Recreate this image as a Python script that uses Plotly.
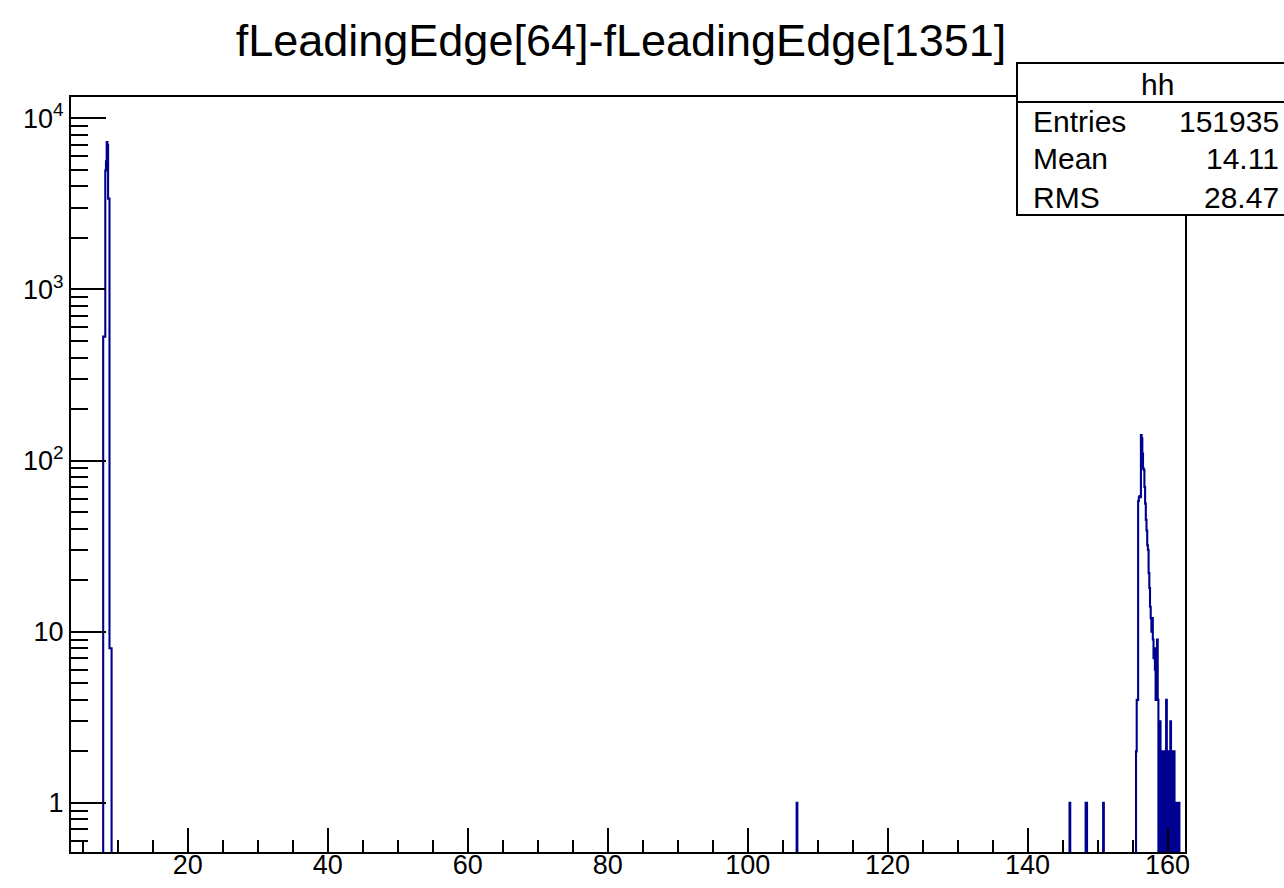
import numpy as np
import plotly.graph_objects as go

# ---- histogram "hh": fLeadingEdge[64]-fLeadingEdge[1351] ----
BIN_W = 0.1
X_LO, X_HI = 3.3, 162.5

# main peak (bin low edges and contents)
peak_lo = [7.9, 8.0, 8.1, 8.2, 8.3, 8.4, 8.5, 8.6, 8.7, 8.8, 8.9, 9.0]
peak_n = [530, 530, 530, 4960, 5600, 7250, 7000, 3390, 3390, 8, 8, 8]

# isolated single entries
lone_lo = [107.0, 146.0, 148.3, 148.4, 150.8]
lone_n = [1, 1, 1, 1, 1]

# late cluster
late_lo = [155.5, 155.6, 155.7, 155.8, 155.9, 156.0, 156.1, 156.2, 156.3, 156.4,
           156.5, 156.6, 156.7, 156.8, 156.9, 157.0, 157.1, 157.2, 157.3, 157.4,
           157.5, 157.6, 157.7, 157.8, 157.9, 158.0, 158.1, 158.2, 158.3, 158.4,
           158.5, 158.6, 158.7, 158.8, 158.9, 159.0, 159.1, 159.2, 159.3, 159.4,
           159.5, 159.6, 159.7, 159.8, 159.9, 160.0, 160.1, 160.2, 160.3, 160.4,
           160.5, 160.6, 160.7, 160.8, 160.9, 161.0, 161.1, 161.2, 161.3, 161.4,
           161.5, 161.6]
late_n = [2, 4, 4, 58, 61, 62, 61, 141, 135, 110,
          90, 88, 70, 56, 45, 39, 32, 30, 22, 18,
          14, 12, 10, 12, 9, 7, 8, 6, 4, 5,
          9, 4, 0, 2, 3, 0, 2, 1, 0, 2,
          1, 0, 2, 4, 0, 2, 1, 0, 2, 3,
          0, 2, 1, 0, 2, 1, 0, 1, 0, 1,
          0, 1]

stats_labels = ["Entries", "Mean", "RMS"]
stats_values = ["151935", "14.11", "28.47"]

y_tickvals = [1, 10, 100, 1000, 10000]
y_ticktext = ["1", "10", "10<sup>2</sup>", "10<sup>3</sup>", "10<sup>4</sup>"]

# ---- fill the binned contents ----
n_bins = int(round((X_HI - X_LO) / BIN_W)) + 1
edges = X_LO + BIN_W * np.arange(n_bins + 1)
counts = np.zeros(n_bins)
for lo_list, n_list in ((peak_lo, peak_n), (lone_lo, lone_n), (late_lo, late_n)):
    for lo, n in zip(lo_list, n_list):
        i = int(round((lo - X_LO) / BIN_W))
        if 0 <= i < n_bins:
            counts[i] = n

# empty bins drop below the visible log range
FLOOR = 1e-3
step_y = np.where(counts > 0, counts, FLOOR)
step_y = np.append(step_y, step_y[-1])

HIST_COLOR = "#000090"
FONT = "Liberation Sans, Arial, Helvetica, sans-serif"

fig = go.Figure()
fig.add_trace(go.Scatter(
    x=edges, y=step_y, mode="lines",
    line=dict(shape="hv", color=HIST_COLOR, width=2.1),
    hoverinfo="skip", showlegend=False,
))

# ---- geometry (pixels) ----
W, H = 1284, 888
L, R, T, B = 71, 1185, 97, 852


def px(xp):
    return (xp - L) / (R - L)


def py(yp):
    return (B - yp) / (B - T)


fig.update_layout(
    width=W, height=H,
    margin=dict(l=L, r=W - R, t=T, b=H - B, autoexpand=False),
    paper_bgcolor="white", plot_bgcolor="white",
    font=dict(family=FONT, color="black"),
    title=dict(text="fLeadingEdge[64]-fLeadingEdge[1351]",
               x=621 / W, xanchor="center", y=1 - 40 / H, yanchor="middle",
               font=dict(size=45, family=FONT, color="black")),
    showlegend=False,
)

fig.update_xaxes(
    range=[X_LO, X_HI], showgrid=False, zeroline=False, automargin=False,
    showline=True, linecolor="black", linewidth=2, mirror=True,
    ticks="inside", ticklen=24, tickwidth=1.5, tickcolor="black",
    tick0=0, dtick=20, ticklabelstandoff=-12,
    minor=dict(ticks="inside", ticklen=12, tickwidth=1.5, tickcolor="black",
               dtick=5, showgrid=False),
    tickfont=dict(size=27, family=FONT, color="black"),
)

minor_y = [m * 10 ** k for k in range(-1, 5) for m in range(2, 10)]
minor_y = [v for v in minor_y if 0.5 <= v <= 13000]
fig.update_yaxes(
    type="log", range=[-0.287, 4.124], showgrid=False, zeroline=False,
    automargin=False,
    showline=True, linecolor="black", linewidth=2, mirror=True,
    ticks="inside", ticklen=35, tickwidth=1.5, tickcolor="black",
    tickmode="array", tickvals=y_tickvals, ticktext=y_ticktext,
    minor=dict(ticks="inside", ticklen=17, tickwidth=1.5, tickcolor="black",
               tickmode="array", tickvals=minor_y, showgrid=False),
    tickfont=dict(size=27, family=FONT, color="black"),
)

# ---- statistics box ----
box_l, box_t, box_head, box_b, box_r = 1017, 63, 102, 215, 1300
fig.add_shape(type="rect", xref="paper", yref="paper",
              x0=px(box_l), x1=px(box_r), y0=py(box_b), y1=py(box_t),
              fillcolor="white", line=dict(color="black", width=2), layer="above")
fig.add_shape(type="line", xref="paper", yref="paper",
              x0=px(box_l), x1=px(box_r), y0=py(box_head), y1=py(box_head),
              line=dict(color="black", width=2), layer="above")
fig.add_annotation(text="hh", xref="paper", yref="paper",
                   x=px(1157), y=py(84), xanchor="center", yanchor="middle",
                   showarrow=False, font=dict(size=30, family=FONT, color="black"))
row_y = [122, 159, 197]
for lab, val, yy in zip(stats_labels, stats_values, row_y):
    fig.add_annotation(text=lab, xref="paper", yref="paper",
                       x=px(1031), y=py(yy), xanchor="left", yanchor="middle",
                       showarrow=False, font=dict(size=30, family=FONT, color="black"))
    fig.add_annotation(text=val, xref="paper", yref="paper",
                       x=px(1281), y=py(yy), xanchor="right", yanchor="middle",
                       showarrow=False, font=dict(size=30, family=FONT, color="black"))

fig.write_html("out.html")
